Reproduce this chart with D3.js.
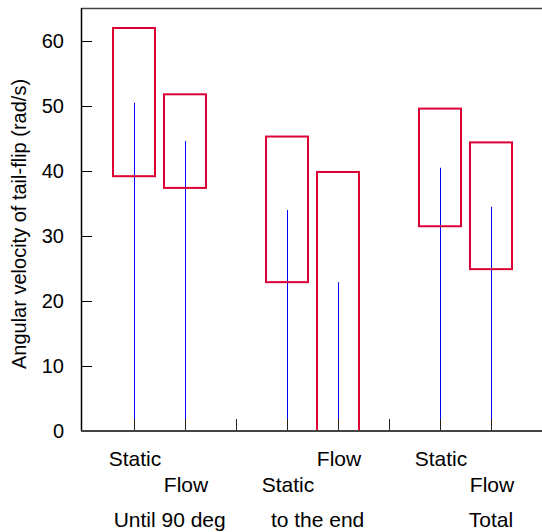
<!DOCTYPE html>
<html>
<head>
<meta charset="utf-8">
<script src="https://cdn.jsdelivr.net/npm/d3@7"></script>
<style>
body { margin:0; background:#fff; }
text { font-family: "Liberation Sans", Arial, sans-serif; font-size:20px; fill:#000; }
text.sl { font-size:21px; }
text.gl { font-size:21px; }
</style>
</head>
<body>
<div id="chart"></div>
<script>
const width = 542
const height = 532

const margin = {
    top:8,
    bottom:101,
    left:81,
    right:0
}

// one slot per box, empty slots separate the groups
const slotLabels = ["Static","Flow","","Static","Flow","","Static","Flow"]
const boxTop    = [62, 51.8, null, 45.3, 39.85, null, 49.6, 44.4]
const boxBottom = [39.2, 37.4, null, 22.9, 0, null, 31.5, 24.9]
const lineTop   = [50.5, 44.6, null, 34.0, 22.9, null, 40.5, 34.5]
const groupLabels = ["Until 90 deg","to the end","Total"]
const groupPos = [0.7, 3.6, 7]
const yTicks = [0,10,20,30,40,50,60]

const innerW = width - margin.left - margin.right
const innerH = height - margin.top - margin.bottom

const svg = d3.select("div#chart").append("svg").attr("width",width).attr("height",height)
const g = svg.append("g").attr("transform",`translate(${margin.left},${margin.top})`)

const x = d3.scaleLinear().domain([-1, 8]).range([2, innerW])
const y = d3.scaleLinear().domain([0, 60]).range([innerH, innerH - 6*65])

const boxW = 42

const data = slotLabels.map((d,i) => ({label:d, i:i, top:boxTop[i], bottom:boxBottom[i], line:lineTop[i]}))
const filled = data.filter(d => d.top != null)

// blue lines
g.selectAll("line.val").data(filled).enter()
    .append("line")
    .attr("class","val")
    .attr("x1", d => Math.round(x(d.i)) + 0.5)
    .attr("x2", d => Math.round(x(d.i)) + 0.5)
    .attr("y1", d => y(d.line))
    .attr("y2", y(0))
    .attr("stroke","#0000ff")
    .attr("stroke-width",1)

// red boxes
g.selectAll("rect.box").data(filled).enter()
    .append("rect")
    .attr("class","box")
    .attr("x", d => x(d.i) - boxW/2)
    .attr("y", d => y(d.top))
    .attr("width", boxW)
    .attr("height", d => y(d.bottom) - y(d.top))
    .attr("fill","none")
    .attr("stroke","#dc0034")
    .attr("stroke-width",2)

// small x ticks
g.selectAll("line.xt").data(data).enter()
    .append("line")
    .attr("class","xt")
    .attr("x1", d => Math.round(x(d.i)) + 0.5)
    .attr("x2", d => Math.round(x(d.i)) + 0.5)
    .attr("y1", y(0))
    .attr("y2", y(0) - 12)
    .attr("stroke","#222")
    .attr("stroke-width",1)

// frame
g.append("line").attr("x1",0).attr("x2",innerW).attr("y1",0.5).attr("y2",0.5)
    .attr("stroke","#444").attr("stroke-width",1.5)
g.append("line").attr("x1",0.5).attr("x2",0.5).attr("y1",0).attr("y2",y(0))
    .attr("stroke","#000").attr("stroke-width",1.5)

// y axis
const yAxis = d3.axisRight(y).tickValues(yTicks).tickSize(11).tickFormat("")
const yAxisGroup = g.append("g").attr("class","yAxisGroup").call(yAxis)
yAxisGroup.select(".domain").remove()
yAxisGroup.selectAll(".tick line").attr("stroke","#000")

g.selectAll("text.yl").data(yTicks).enter()
    .append("text")
    .attr("class","yl")
    .attr("x", -17)
    .attr("y", d => y(d) + 7)
    .attr("text-anchor","end")
    .text(d => d)

g.append("line").attr("x1",0).attr("x2",innerW).attr("y1",y(0)).attr("y2",y(0))
    .attr("stroke","#444").attr("stroke-width",2)

// slot labels, alternating rows
g.selectAll("text.sl").data(data).enter()
    .append("text")
    .attr("class","sl")
    .attr("x", d => x(d.i) + 1)
    .attr("y", d => y(0) + (d.i % 2 === 0 ? 35 : 61))
    .attr("text-anchor","middle")
    .text(d => d.label)

g.selectAll("text.gl").data(groupLabels).enter()
    .append("text")
    .attr("class","gl")
    .attr("x", (d,i) => x(groupPos[i]))
    .attr("y", y(0) + 96)
    .attr("text-anchor","middle")
    .text(d => d)

svg.append("text")
    .attr("transform",`translate(26,224) rotate(-90)`)
    .attr("text-anchor","middle")
    .text("Angular velocity of tail-flip (rad/s)")
</script>
</body>
</html>
